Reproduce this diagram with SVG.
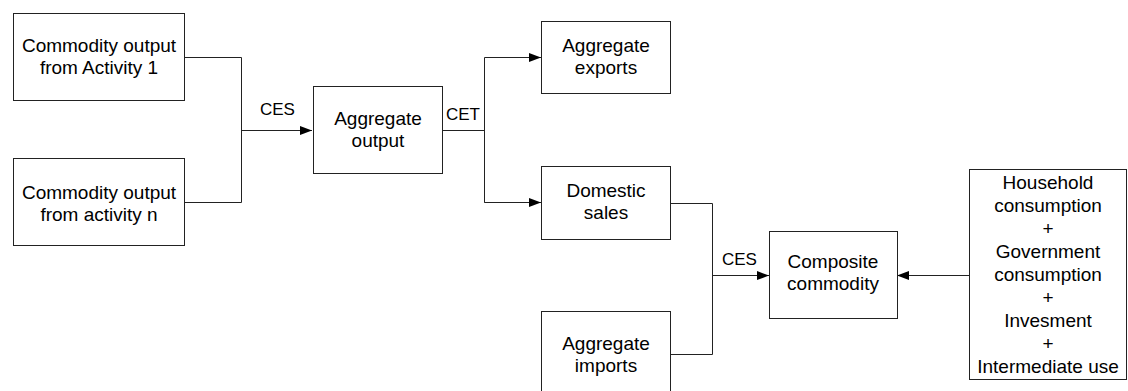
<svg xmlns="http://www.w3.org/2000/svg" width="1128" height="391" viewBox="0 0 1128 391">
<style>
.box{fill:#fff;stroke:#222;stroke-width:1}
.t{font-family:"Liberation Sans",Arial,sans-serif;font-size:19px;fill:#000;text-anchor:middle}
.lbl{font-family:"Liberation Sans",Arial,sans-serif;font-size:17px;fill:#000}
.c{fill:none;stroke:#222;stroke-width:1}
</style>
<defs>
<marker id="ah" markerUnits="userSpaceOnUse" markerWidth="12" markerHeight="10" refX="12" refY="4.5" orient="auto">
<path d="M0,0 L12,4.5 L0,9 z" fill="#000"/>
</marker>
</defs>
<rect width="1128" height="391" fill="#fff"/>
<g id="connectors">
<path class="c" d="M184.5,57.5 H241.5 V202.5 H184.5"/>
<path class="c" d="M241.5,130.5 H312" marker-end="url(#ah)"/>
<path class="c" d="M442.5,130.5 H484.5"/>
<path class="c" d="M484.5,202.5 V57.5 H541" marker-end="url(#ah)"/>
<path class="c" d="M484.5,130.5 V202.5 H541" marker-end="url(#ah)"/>
<path class="c" d="M670.5,203.5 H712.5 V354.5 H670.5"/>
<path class="c" d="M712.5,275.5 H769" marker-end="url(#ah)"/>
<path class="c" d="M969.5,275.5 H897" marker-end="url(#ah)"/>
<text class="lbl" x="260" y="115">CES</text>
<text class="lbl" x="446" y="120">CET</text>
<text class="lbl" x="722" y="265">CES</text>
</g>
<g id="act1">
<rect class="box" x="13.5" y="13.5" width="171" height="87"/>
<text class="t" x="99" y="52">Commodity output</text>
<text class="t" x="99" y="74">from Activity 1</text>
</g>
<g id="actn">
<rect class="box" x="13.5" y="158.5" width="171" height="87"/>
<text class="t" x="99" y="199">Commodity output</text>
<text class="t" x="99" y="221">from activity n</text>
</g>
<g id="aggout">
<rect class="box" x="313.5" y="86.5" width="129" height="87"/>
<text class="t" x="378" y="125">Aggregate</text>
<text class="t" x="378" y="147">output</text>
</g>
<g id="exports">
<rect class="box" x="541.5" y="21.5" width="129" height="72"/>
<text class="t" x="606" y="52">Aggregate</text>
<text class="t" x="606" y="74">exports</text>
</g>
<g id="domestic">
<rect class="box" x="541.5" y="166.5" width="129" height="73"/>
<text class="t" x="606" y="197">Domestic</text>
<text class="t" x="606" y="219">sales</text>
</g>
<g id="imports">
<rect class="box" x="541.5" y="311.5" width="129" height="88"/>
<text class="t" x="606" y="350">Aggregate</text>
<text class="t" x="606" y="372">imports</text>
</g>
<g id="composite">
<rect class="box" x="769.5" y="231.5" width="128" height="87"/>
<text class="t" x="833" y="268">Composite</text>
<text class="t" x="833" y="290">commodity</text>
</g>
<g id="demand">
<rect class="box" x="969.5" y="169.5" width="157" height="210"/>
<text class="t" x="1048" y="189">Household</text>
<text class="t" x="1048" y="212">consumption</text>
<text class="t" x="1048" y="235">+</text>
<text class="t" x="1048" y="258">Government</text>
<text class="t" x="1048" y="281">consumption</text>
<text class="t" x="1048" y="304">+</text>
<text class="t" x="1048" y="327">Invesment</text>
<text class="t" x="1048" y="350">+</text>
<text class="t" x="1048" y="373">Intermediate use</text>
</g>
</svg>
